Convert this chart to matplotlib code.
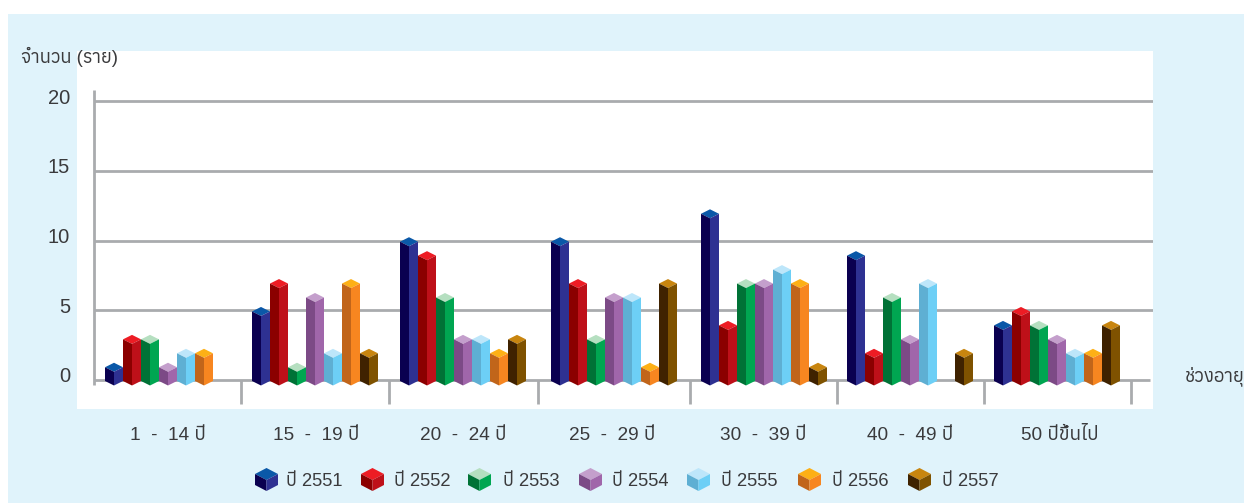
import matplotlib
matplotlib.use("Agg")
import matplotlib.pyplot as plt
from matplotlib import font_manager
from matplotlib.ft2font import FT2Font
from matplotlib.patches import Polygon, Rectangle
from matplotlib.transforms import Affine2D

ages = ["1  -  14 ปี", "15  -  19 ปี", "20  -  24 ปี", "25  -  29 ปี", "30  -  39 ปี", "40  -  49 ปี", "50 ปีขึ้นไป"]
years = ["ปี 2551", "ปี 2552", "ปี 2553", "ปี 2554", "ปี 2555", "ปี 2556", "ปี 2557"]
y2551 = [1, 5, 10, 10, 12, 9, 4]
y2552 = [3, 7, 9, 7, 4, 2, 5]
y2553 = [3, 1, 6, 3, 7, 6, 4]
y2554 = [1, 6, 3, 6, 7, 3, 3]
y2555 = [2, 2, 3, 6, 8, 7, 2]
y2556 = [2, 7, 2, 1, 7, 0, 2]
y2557 = [0, 2, 3, 7, 1, 2, 4]
series = [y2551, y2552, y2553, y2554, y2555, y2556, y2557]

# top, left face, right face
colors = [
    ("#0a58a8", "#0a0050", "#2e3192"),
    ("#ed1c24", "#8b0000", "#be1019"),
    ("#b5dfc0", "#007236", "#00a651"),
    ("#c49fcc", "#7c4a86", "#a066aa"),
    ("#bde6fa", "#5eafd3", "#6dcff6"),
    ("#fdb016", "#c1651a", "#f78620"),
    ("#c8850f", "#3f2200", "#7f5200"),
]

# layout in pixels
W, H = 1244, 503
group_left = [105, 252, 400, 551, 701, 847, 994]
label_x = [168, 316, 463, 612, 763, 910, 1060]
sep_x = [241, 389, 538, 690, 837, 984, 1131]
legend_x = [255, 361, 468, 579, 687, 798, 908]
legend_text_x = [286, 394, 503, 612, 721, 832, 942]
BAR_W = 18
PX = 13.95  # pixels per case on the y axis

# look for a family that really has Thai glyphs
thai = []
for f in font_manager.fontManager.ttflist:
    try:
        if 0x0E01 in FT2Font(f.fname).get_charmap():
            thai.append(f.name)
    except Exception:
        pass
plt.rcParams["font.family"] = ["Liberation Sans"] + sorted(set(thai))[:1] + ["Noto Sans", "DejaVu Sans"]
TEXT = "#3a3a3c"
GREY = "#a9abae"

fig = plt.figure(figsize=(W / 100, H / 100), dpi=100, facecolor="white")

# background panel in pixel coordinates
bg = fig.add_axes([0, 0, 1, 1])
bg.set_xlim(0, W)
bg.set_ylim(H, 0)
bg.axis("off")
bg.add_patch(Rectangle((8, 14), W - 8, H - 14, color="#e0f3fb", lw=0))


def cube(a, x, w, top, bottom, dy, cols, z=3):
    # x, w in px, top and bottom in the axes' y units, dy is the slant
    c_x = x + w / 2
    a.add_patch(Polygon([(x, top), (c_x, top + dy), (x + w, top), (c_x, top - dy)], fc=cols[0], ec="none", zorder=z))
    a.add_patch(Polygon([(x, top), (c_x, top + dy), (c_x, bottom + dy), (x, bottom)], fc=cols[1], ec="none", zorder=z))
    a.add_patch(Polygon([(c_x, top + dy), (x + w, top), (x + w, bottom), (c_x, bottom + dy)], fc=cols[2], ec="none", zorder=z))


# plot area: the white box is x 77-1153, y 51-409, value 0 sits at y=380
ax = fig.add_axes([77 / W, 1 - 409 / H, (1153 - 77) / W, (409 - 51) / H], zorder=2)
ax.set_xlim(77, 1153)
ax.set_ylim((380 - 409) / PX, (380 - 51) / PX)
ax.set_facecolor("white")
for s in ax.spines.values():
    s.set_visible(False)

ax.hlines([5, 10, 15, 20], 94, 1153, color=GREY, lw=2, zorder=1)
ax.hlines(0, 94, 1150, color=GREY, lw=2, zorder=1)
ax.vlines(94, -5 / PX, 290 / PX, color=GREY, lw=2, zorder=1)
ax.vlines(sep_x, -24 / PX, 0, color=GREY, lw=2, zorder=1)

ax.set_yticks([0, 5, 10, 15, 20])
ax.set_yticklabels(["0", "5", "10", "15", "20"], fontsize=14.5, color=TEXT)
ax.tick_params(axis="y", length=0, pad=5)
# the numbers sit a little above their grid lines
for lab in ax.get_yticklabels():
    lab.set_transform(lab.get_transform() + Affine2D().translate(0, 5))
ax.set_xticks(label_x)
ax.set_xticklabels(ages, fontsize=13.7, color=TEXT)
ax.tick_params(axis="x", length=0, pad=13)

for i, vals in enumerate(series):
    for g, v in enumerate(vals):
        if v == 0:
            continue
        x = group_left[g] + i * BAR_W
        cube(ax, x, BAR_W, v - 1.2 / PX, -1 / PX, -4.5 / PX, colors[i])

fig.text(21 / W, 1 - 57 / H, "จำนวน (ราย)", fontsize=13.3, color=TEXT, va="center", zorder=5)
fig.text(1185 / W, 1 - 376 / H, "ช่วงอายุ", fontsize=13.4, color=TEXT, va="center", zorder=5)

for i, name in enumerate(years):
    cube(bg, legend_x[i], 23, 474, 485, 6, colors[i])
    bg.text(legend_text_x[i], 481, name, fontsize=13.2, color=TEXT, va="center")

fig.savefig("out.png", dpi=100)
